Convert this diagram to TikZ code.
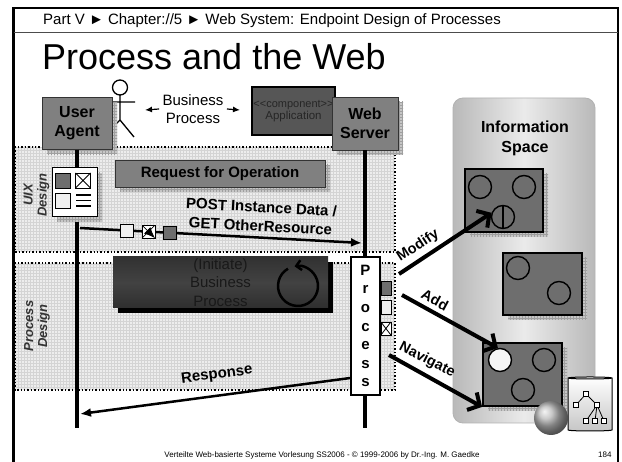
\documentclass[tikz,border=0pt]{standalone}
\usepackage{fontspec}
\setmainfont{Liberation Sans}
\usepackage{tikz}
\usetikzlibrary{arrows.meta,patterns,shapes.geometric}
\definecolor{boxgray}{HTML}{808080}
\definecolor{cellgray}{HTML}{6E6E6E}
\definecolor{appgray}{HTML}{565656}
\definecolor{procdark}{HTML}{424242}
\newcommand{\fsz}[2]{\fontsize{#1}{#2}\selectfont}
\tikzset{
  gridshadow/.style={preaction={fill=gray!45,transform canvas={xshift=5pt,yshift=-5pt}},
    preaction={pattern=grid,pattern color=gray!75,transform canvas={xshift=5pt,yshift=-5pt}}},
  actor/.style={draw=black!80,fill=boxgray,gridshadow,font=\fsz{16}{19}\bfseries,align=center,inner sep=0pt},
  lifeline/.style={line width=4pt},
  region/.style={fill=gray!14,postaction={pattern=grid,pattern color=gray!34},postaction={draw,dotted,line width=1.4pt}},
  chip/.style={draw,line width=0.8pt,inner sep=0pt,minimum width=13pt,minimum height=13pt},
  xchip/.style={chip,fill=white,path picture={\draw (path picture bounding box.south west)--(path picture bounding box.north east)
    (path picture bounding box.north west)--(path picture bounding box.south east);}},
  cell/.style={draw,line width=1.8pt,fill=cellgray,gridshadow,inner sep=0pt},
  hole/.style={circle,draw,line width=1.4pt,minimum size=23pt,inner sep=0pt},
  msg/.style={line width=2.5pt,-{Latex[length=11pt,width=9pt]}},
  op/.style={line width=4pt,-{Straight Barb[length=9pt,width=20pt]}},
  lbl/.style={font=\fsz{15}{19}\bfseries}
}

\begin{document}
\begin{tikzpicture}[x=1pt,y=-1pt]
\path[use as bounding box,fill=white] (0,0) rectangle (622,462);
\draw[line width=2.5pt] (13.5,462) -- (13.5,8) -- (618,8) -- (618,462);
\draw[black!70,line width=1.2pt] (13.5,32.5) -- (618,32.5);
\node[anchor=west,inner sep=0,font=\fsz{15}{17}] (hdr) at (43,21) {Part V ► Chapter://5 ► Web System: Endpoint Design of Processes};
\node[anchor=base west,inner sep=0,font=\fsz{36}{40}] (ttl) at (42,70) {Process and the Web};

\path[region] (15,147) rectangle (395,252);
\path[region] (15,263) rectangle (395,390);
\node[rotate=90,align=center,font=\fsz{13}{14}\bfseries\itshape,text=black!80] (uix) at (36.5,195) {UIX\\Design};
\node[rotate=90,align=center,font=\fsz{13}{14}\bfseries\itshape,text=black!80] (pdes) at (37,326) {Process\\Design};

\draw[line width=1.3pt] (120,87.5) circle[radius=7.5] (120,95) -- (120,120) (113,102) -- (135,102) (110,130) -- (120,120) -- (134,137);
\node[draw,line width=1.5pt,fill=appgray,minimum width=83pt,minimum height=48pt,inner sep=0,align=center,text=black!85] (app) at (293.5,111)
  {{\fsz{11}{12}<\kern0pt<component>\kern0pt>}\\{\fsz{11.5}{14}Application}};
\node[actor,minimum width=66pt,minimum height=53pt] (ws) at (365,123.5) {Web\\Server};
\node[actor,minimum width=70pt,minimum height=52pt] (ua) at (77,123.5) {User\\Agent};

\node[align=center,font=\fsz{15}{18}] (bp) at (193,109) {Business\\Process};
\coordinate (bpl) at (145,110); \coordinate (bpr) at (240,110);
\draw[line width=1.2pt,{Latex[length=7pt,width=6pt]}-] (bpl) -- (bp.west);
\draw[line width=1.2pt,-{Latex[length=7pt,width=6pt]}] (bp.east) -- (bpr);

\coordinate (uaend) at (77,428); \coordinate (wsend) at (365,428);
\draw[lifeline] (ua.south) -- (uaend);
\draw[lifeline] (ws.south) -- (wsend);

\node[draw,line width=1pt,fill=white,gridshadow,minimum width=45pt,minimum height=49pt,inner sep=0] (form) at (74.5,192.5) {};
\node[chip,minimum width=15pt,minimum height=15pt,fill=cellgray] (f1) at (62.5,180.5) {};
\node[xchip,minimum width=15pt,minimum height=15pt] (f2) at (83,180.5) {};
\node[chip,minimum width=15pt,minimum height=15pt,fill=gray!12] (f3) at (62.5,200.5) {};
\foreach \y in {195,200.5,206} \draw[line width=1.2pt] (76,\y) -- (91,\y);

\node[actor,font=\fsz{15}{17}\bfseries,minimum width=210pt,minimum height=27pt] (req) at (220,173.5) {Request for Operation};

\coordinate (p0) at (80,228); \coordinate (p1) at (362,243);
\draw[msg] (p0) -- (p1) node[chip,pos=.165,fill=gray!12] (d1) {} node[xchip,pos=.243] (d2) {} node[chip,pos=.319,fill=cellgray] (d3) {};
\node[lbl,align=center,rotate=-3] (post) at (261,216.5) {POST Instance Data /\\GET OtherResource};

\node[minimum width=215pt,minimum height=51pt,inner sep=0,align=center,font=\fsz{15}{18.5},text=black!90,
  top color=procdark!75!black,bottom color=procdark!70!black,middle color=procdark,
  preaction={fill=black,transform canvas={xshift=5pt,yshift=-5pt}}] (ibp) at (220.5,282.5) {(Initiate)\\Business\\Process};
\draw[line width=2.5pt,-{Straight Barb[length=5pt,width=10pt]}] (298,286) ++(-120:20) arc[start angle=-120,end angle=-460,radius=20];

\node[draw,line width=1.5pt,fill=white,minimum width=29pt,minimum height=138pt,inner sep=0,align=center,font=\fsz{15}{18.6}\bfseries] (proc) at (365.5,326) {P\\r\\o\\c\\e\\s\\s};
\node[chip,anchor=west,minimum width=10pt,minimum height=14pt,fill=cellgray] (s1) at (380.5,288) {};
\node[chip,anchor=west,minimum width=10pt,minimum height=14pt,fill=gray!12] (s2) at (380.5,307) {};
\node[xchip,anchor=west,minimum width=10pt,minimum height=13pt] (s3) at (380.5,328.5) {};

\coordinate (r1) at (80,414);
\draw[msg] (proc.west) ++(0,52) -- (r1);
\node[lbl,rotate=7.6] (resp) at (217,375) {Response};

\node[rounded corners=10pt,minimum width=142pt,minimum height=325pt,left color=gray!55,right color=gray!55,middle color=gray!16,draw=gray!60,line width=.8pt] (info) at (524,260.5) {};
\node[align=center,font=\fsz{16}{20}\bfseries] (infot) at (525,138) {Information\\Space};
\node[cell,minimum width=78pt,minimum height=63pt] (c1) at (504,200.5) {};
\node[cell,minimum width=79pt,minimum height=62pt] (c2) at (542.5,284) {};
\node[cell,minimum width=79pt,minimum height=63pt] (c3) at (522.5,374.5) {};
\foreach \n/\x/\y in {h1/480/187,h2/524/187,h4/518/268,h5/559/293,h7/544/360,h8/523/390}
  \node[hole] (\n) at (\x,\y) {};
\node[hole,path picture={\draw[line width=1.4pt] (path picture bounding box.north) -- (path picture bounding box.south);}] (h3) at (503,217) {};
\node[hole,fill=gray!8] (h6) at (500,360) {};

\coordinate (m0) at (399,274); \coordinate (a0) at (402,295); \coordinate (n0) at (389,355);
\draw[op] (m0) -- (h3.160);
\draw[op] (a0) -- (h6.100);
\draw[op] (n0) -- (c3.south west);
\node[lbl,font=\fsz{14.5}{17}\bfseries,rotate=33] (modl) at (418,246) {Modify};
\node[lbl,font=\fsz{14.5}{17}\bfseries,rotate=-28] (addl) at (435,300) {Add};
\node[lbl,font=\fsz{14.5}{17}\bfseries,rotate=-27] (navl) at (427,360) {Navigate};

\node[cylinder,shape border rotate=90,aspect=0.3,draw,line width=1pt,minimum width=44pt,minimum height=54pt,top color=white,bottom color=gray!45] (db) at (590,405) {};
\foreach \n/\x/\y in {t1/586/394,t2/576/405,t3/597/405,t4/586/421,t5/595/421,t6/604/421}
  \node[draw,fill=white,line width=.8pt,minimum size=5pt,inner sep=0] (\n) at (\x,\y) {};
\draw[line width=.8pt] (t1) -- (t2) (t1) -- (t3) (t3) -- (t4) (t3) -- (t5) (t3) -- (t6);
\node[circle,ball color=gray!55,minimum size=34pt,inner sep=0] (globe) at (551,418) {};

\node[font=\fsz{8}{9}] (foot) at (322,455) {Verteilte Web-basierte Systeme Vorlesung SS2006 - © 1999-2006 by Dr.-Ing. M. Gaedke};
\node[font=\fsz{8}{9},anchor=east] (pg) at (615,455) {184};
\end{tikzpicture}
\end{document}
